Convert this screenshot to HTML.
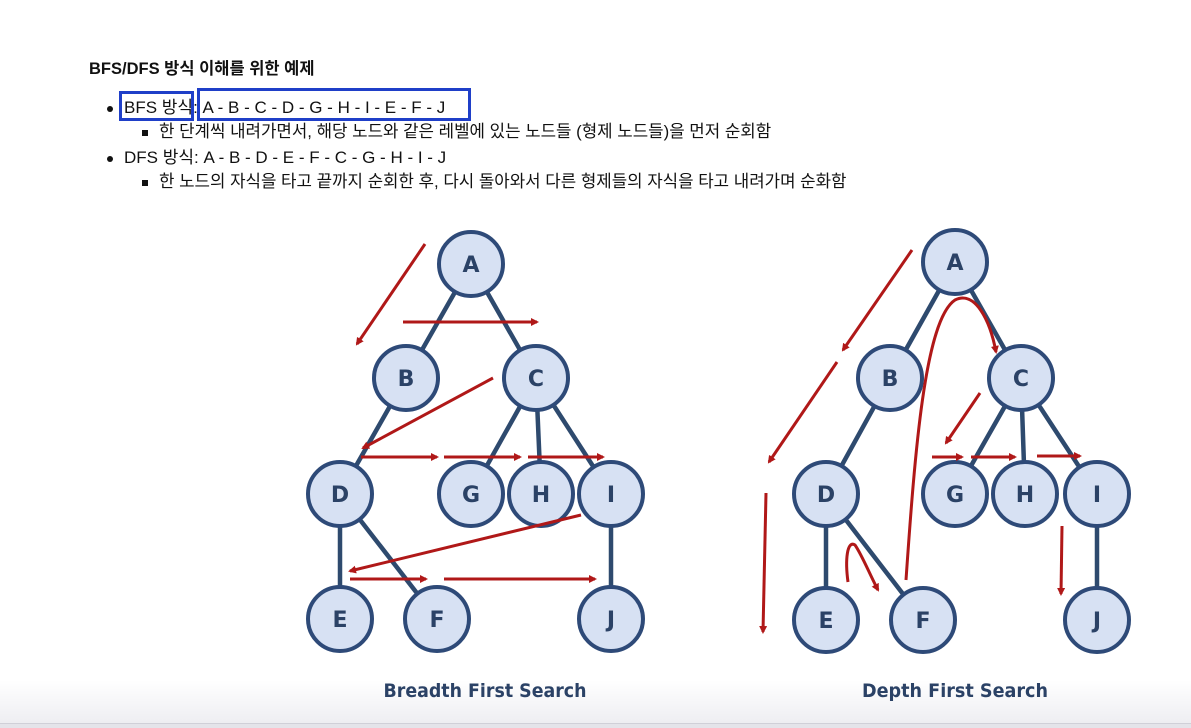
<!DOCTYPE html>
<html><head><meta charset="utf-8"><style>
body{margin:0;width:1191px;height:727px;overflow:hidden;background:#fff;position:relative;font-family:"Liberation Sans","Noto Sans CJK KR",sans-serif;color:#111}
.t{position:absolute;white-space:nowrap;font-size:17px;line-height:20px}
.dot{position:absolute;width:6px;height:6px;border-radius:50%;background:#111}
.sq{position:absolute;width:6px;height:6px;background:#111}
.grad{position:absolute;left:0;top:680px;width:1191px;height:43px;background:linear-gradient(#fff,#eeeef2)}
.line{position:absolute;left:0;top:723px;width:1191px;height:4px;background:#e4e4ea;border-top:1px solid #d0d0d8}
.box{position:absolute;border:3px solid #1f3fc8;box-sizing:border-box}
</style></head><body>
<div class="grad"></div><div class="line"></div>
<div class="t" style="left:89px;top:59px;font-weight:bold;font-size:16.5px">BFS/DFS 방식 이해를 위한 예제</div>
<div class="dot" style="left:107px;top:106px"></div>
<div class="t" style="left:124px;top:98px">BFS 방식: A - B - C - D - G - H - I - E - F - J</div>
<div class="sq" style="left:142px;top:130px"></div>
<div class="t" style="left:159px;top:122px;font-size:16.8px">한 단계씩 내려가면서, 해당 노드와 같은 레벨에 있는 노드들 (형제 노드들)을 먼저 순회함</div>
<div class="dot" style="left:107px;top:156px"></div>
<div class="t" style="left:124px;top:148px">DFS 방식: A - B - D - E - F - C - G - H - I - J</div>
<div class="sq" style="left:142px;top:180px"></div>
<div class="t" style="left:159px;top:172px;font-size:16.8px">한 노드의 자식을 타고 끝까지 순회한 후, 다시 돌아와서 다른 형제들의 자식을 타고 내려가며 순화함</div>
<div class="box" style="left:119px;top:91px;width:75px;height:30px"></div>
<div class="box" style="left:197px;top:88px;width:274px;height:33px"></div>
<svg width="1191" height="727" style="position:absolute;left:0;top:0">
<defs><marker id="ar" markerWidth="8" markerHeight="8" refX="6" refY="4" orient="auto" markerUnits="userSpaceOnUse"><path d="M0,0 L8,4 L0,8 z" fill="#b01818"/></marker></defs>
<g stroke="#2e4a6e" stroke-width="4.5" fill="none">
<path d="M471,264L406,378M471,264L536,378M406,378L340,494M536,378L471,494M536,378L541,494M536,378L611,494M340,494L340,619M340,494L437,619M611,494L611,619"/>
<path d="M955,262L890,378M955,262L1021,378M890,378L826,494M1021,378L955,494M1021,378L1025,494M1021,378L1097,494M826,494L826,620M826,494L923,620M1097,494L1097,620"/>
</g>
<g fill="#d7e1f3" stroke="#2e4a78" stroke-width="4">
<circle cx="471" cy="264" r="32"/><circle cx="406" cy="378" r="32"/><circle cx="536" cy="378" r="32"/>
<circle cx="340" cy="494" r="32"/><circle cx="471" cy="494" r="32"/><circle cx="541" cy="494" r="32"/><circle cx="611" cy="494" r="32"/>
<circle cx="340" cy="619" r="32"/><circle cx="437" cy="619" r="32"/><circle cx="611" cy="619" r="32"/>
<circle cx="955" cy="262" r="32"/><circle cx="890" cy="378" r="32"/><circle cx="1021" cy="378" r="32"/>
<circle cx="826" cy="494" r="32"/><circle cx="955" cy="494" r="32"/><circle cx="1025" cy="494" r="32"/><circle cx="1097" cy="494" r="32"/>
<circle cx="826" cy="620" r="32"/><circle cx="923" cy="620" r="32"/><circle cx="1097" cy="620" r="32"/>
</g>
<g font-family="DejaVu Sans,Liberation Sans,sans-serif" font-weight="bold" font-size="22" fill="#2b4266" text-anchor="middle">
<text x="471" y="272">A</text><text x="406" y="386">B</text><text x="536" y="386">C</text><text x="340" y="502">D</text><text x="471" y="502">G</text><text x="541" y="502">H</text><text x="611" y="502">I</text><text x="340" y="627">E</text><text x="437" y="627">F</text><text x="611" y="627">J</text>
<text x="955" y="270">A</text><text x="890" y="386">B</text><text x="1021" y="386">C</text><text x="826" y="502">D</text><text x="955" y="502">G</text><text x="1025" y="502">H</text><text x="1097" y="502">I</text><text x="826" y="628">E</text><text x="923" y="628">F</text><text x="1097" y="628">J</text>
</g>
<g font-family="DejaVu Sans Condensed,DejaVu Sans,sans-serif" font-weight="bold" font-size="19" fill="#2b4266" text-anchor="middle">
<text x="485" y="697" textLength="203" lengthAdjust="spacingAndGlyphs">Breadth First Search</text><text x="955" y="697" textLength="186" lengthAdjust="spacingAndGlyphs">Depth First Search</text>
</g>
<g stroke="#b01818" stroke-width="3" fill="none" marker-end="url(#ar)">
<path d="M425,244L357,344"/><path d="M403,322L537,322"/><path d="M493,378L363,448"/>
<path d="M361,457L437,457"/><path d="M444,457L520,457"/><path d="M528,457L603,457"/>
<path d="M581,515L350,571"/><path d="M350,579L426,579"/><path d="M444,579L595,579"/>
<path d="M912,250L843,350"/><path d="M837,362L769,462"/><path d="M766,493L763,632"/>
<path d="M906,580C915,450 925,320 955,300C975,290 990,320 996,352"/>
<path d="M980,393L946,443"/><path d="M932,457L962,457"/><path d="M971,457L1015,457"/><path d="M1037,456L1080,456"/>
<path d="M1062,526L1061,594"/>
<path d="M848,582C845,560 847,540 855,545C862,555 870,575 878,590"/>
</g>
</svg>
</body></html>
